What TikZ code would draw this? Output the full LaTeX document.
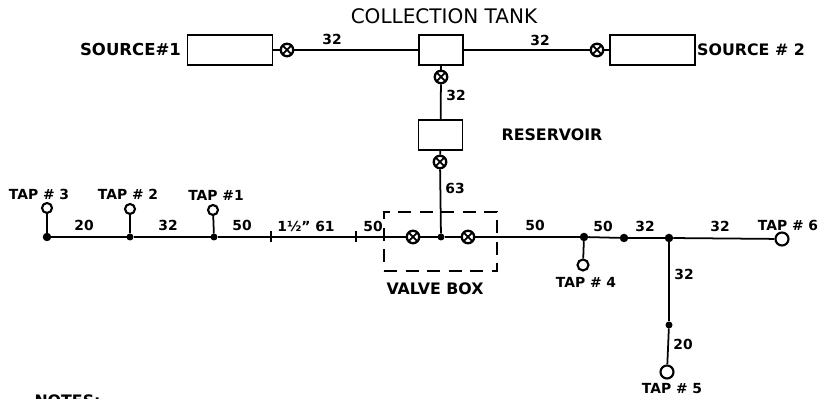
\documentclass[tikz,border=0pt]{standalone}
\usepackage{fontspec}
\setmainfont{DejaVu Sans}
\tikzset{
  tank/.style={rectangle, draw, line width=1pt, minimum height=.6cm, inner sep=0pt},
  valve/.style={circle, draw, line width=1.3pt, fill=white, minimum size=.25cm, inner sep=0pt,
    path picture={\draw [line width=1pt] (path picture bounding box.south west) -- (path picture bounding box.north east)
      (path picture bounding box.north west) -- (path picture bounding box.south east);}},
  tapend/.style={circle, draw, line width=1.2pt, fill=white, minimum size=.2cm, inner sep=0pt},
  joint/.style={circle, fill, minimum size=.17cm, inner sep=0pt, outer sep=0pt},
  tick/.style={rectangle, fill, minimum width=1pt, minimum height=.22cm, inner sep=0pt, outer sep=0pt},
  pipe/.style={line width=1pt},
  lbl/.style={font=\bfseries\fontsize{7.9}{9}\selectfont, inner sep=0pt},
  biglbl/.style={font=\bfseries\fontsize{9}{10}\selectfont, inner sep=0pt}
}
\begin{document}
\begin{tikzpicture}
      \path [use as bounding box, clip] (0,0) rectangle (16.5,7.98);
      % supply side
      \node [tank, minimum width=1.7cm] (src1) at (4.6,6.98) {};
      \node [tank, minimum width=.88cm] (coll) at (8.82,6.98) {};
      \node [tank, minimum width=1.7cm] (src2) at (13.05,6.98) {};
      \node [tank, minimum width=.88cm] (res) at (8.81,5.28) {};
      \node [valve] (v1) at (5.74,6.98) {};
      \node [valve] (v2) at (11.94,6.98) {};
      \node [valve] (v3) at (8.82,6.44) {};
      \node [valve] (v4) at (8.8,4.74) {};
      % main line
      \node [rectangle, draw, line width=1pt, dash pattern=on .26cm off .17cm, minimum width=2.26cm, minimum height=1.18cm] (vbox) at (8.81,3.15) {};
      \node [joint] (j3) at (.94,3.24) {};
      \node [joint, minimum size=.14cm] (j2) at (2.6,3.24) {};
      \node [joint, minimum size=.14cm] (j1) at (4.28,3.24) {};
      \node [tick] (t1) at (5.42,3.24) {};
      \node [tick] (t2) at (7.12,3.24) {};
      \node [valve] (v5) at (8.26,3.24) {};
      \node [joint, minimum size=.14cm] (jv) at (8.82,3.24) {};
      \node [valve] (v6) at (9.36,3.24) {};
      \node [joint] (j4) at (11.68,3.24) {};
      \node [joint] (jm) at (12.48,3.22) {};
      \node [joint] (j56) at (13.38,3.22) {};
      \node [joint, minimum size=.14cm] (j5) at (13.38,1.48) {};
      % taps
      \node [tapend] (tap3) at (.94,3.82) {};
      \node [tapend] (tap2) at (2.6,3.8) {};
      \node [tapend] (tap1) at (4.26,3.78) {};
      \node [tapend, minimum size=.22cm] (tap4) at (11.66,2.68) {};
      \node [tapend, minimum size=.26cm] (tap5) at (13.34,.54) {};
      \node [tapend, minimum size=.26cm] (tap6) at (15.64,3.2) {};
      % connectors
      \draw [pipe] (src1) -- (v1);
      \draw [pipe] (v1) -- (coll);
      \draw [pipe] (coll) -- (v2);
      \draw [pipe] (v2) -- (src2);
      \draw [pipe] (coll) -- (v3);
      \draw [pipe] (v3) -- (res);
      \draw [pipe] (res) -- (v4);
      \draw [pipe] (v4) -- (jv);
      \draw [pipe] (j3) -- (j2);
      \draw [pipe] (j2) -- (j1);
      \draw [pipe] (j1) -- (t1);
      \draw [pipe] (t1) -- (t2);
      \draw [pipe] (t2) -- (v5);
      \draw [pipe] (v5) -- (jv);
      \draw [pipe] (jv) -- (v6);
      \draw [pipe] (v6) -- (j4);
      \draw [pipe] (j4) -- (jm);
      \draw [pipe] (jm) -- (j56);
      \draw [pipe] (j56) -- (tap6);
      \draw [pipe] (j56) -- (j5);
      \draw [pipe] (j5) -- (tap5);
      \draw [pipe] (j3) -- (tap3);
      \draw [pipe] (j2) -- (tap2);
      \draw [pipe] (j1) -- (tap1);
      \draw [pipe] (j4) -- (tap4);
      % names
      \node [biglbl, font=\fontsize{11.4}{13}\selectfont] (ltank) at (8.88,7.66) {COLLECTION TANK};
      \node [biglbl, font=\bfseries\fontsize{9.4}{11}\selectfont] (lsrc1) at (2.61,6.98) {SOURCE\#1};
      \node [biglbl] (lsrc2) at (15.02,6.98) {SOURCE \# 2};
      \node [biglbl] (lres) at (11.04,5.28) {RESERVOIR};
      \node [biglbl] (lbox) at (8.7,2.2) {VALVE BOX};
      \node [lbl] (ltap3) at (.78,4.1) {TAP \# 3};
      \node [lbl] (ltap2) at (2.56,4.1) {TAP \# 2};
      \node [lbl] (ltap1) at (4.32,4.08) {TAP \#1};
      \node [lbl] (ltap4) at (11.72,2.34) {TAP \# 4};
      \node [lbl] (ltap5) at (13.44,.2) {TAP \# 5};
      \node [lbl] (ltap6) at (15.76,3.48) {TAP \# 6};
      \node [biglbl] (lnotes) at (1.35,-.04) {NOTES:};
      % pipe sizes
      \node [lbl] (d1) at (6.64,7.2) {32};
      \node [lbl] (d2) at (10.8,7.18) {32};
      \node [lbl] (d3) at (9.12,6.08) {32};
      \node [lbl] (d4) at (9.1,4.22) {63};
      \node [lbl] (d5) at (1.68,3.48) {20};
      \node [lbl] (d6) at (3.36,3.48) {32};
      \node [lbl] (d7) at (4.84,3.48) {50};
      \node [lbl] (d8) at (6.12,3.46) {1½" 61};
      \node [lbl] (d9) at (7.46,3.46) {50};
      \node [lbl] (d10) at (10.7,3.48) {50};
      \node [lbl] (d11) at (12.06,3.46) {50};
      \node [lbl] (d12) at (12.9,3.46) {32};
      \node [lbl] (d13) at (14.4,3.46) {32};
      \node [lbl] (d14) at (13.68,2.5) {32};
      \node [lbl] (d15) at (13.66,1.1) {20};
    \end{tikzpicture}
\end{document}
